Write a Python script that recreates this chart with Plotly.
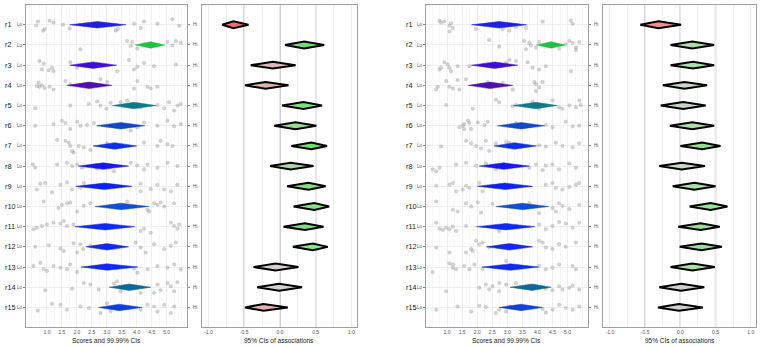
import plotly.graph_objects as go

rows = ["r%d" % i for i in range(1, 16)]

# Panel A: scores (left pair)
a_lo = [1.76, 3.95, 1.76, 1.67, 3.19, 2.66, 2.54, 2.05, 1.96, 2.61, 1.94, 2.30, 2.14, 3.08, 2.72]
a_mid = [2.68, 4.47, 2.54, 2.41, 3.91, 3.46, 3.26, 2.88, 2.92, 3.48, 2.95, 3.01, 3.01, 3.75, 3.42]
a_hi = [3.64, 4.94, 3.33, 3.17, 4.65, 4.27, 4.00, 3.73, 3.84, 4.40, 3.93, 3.73, 4.04, 4.47, 4.18]
score_colors = ["#2020e0", "#20c040", "#4010d0", "#5010b0", "#107888", "#1048c8", "#1030e8",
                "#1818f0", "#1020f0", "#1050d0", "#1028f0", "#1028f0", "#1028f0", "#106898", "#1040d8"]

# Panel B: associations (left pair)
b_lo = [-0.81, 0.07, -0.41, -0.49, 0.03, -0.08, 0.16, -0.14, 0.10, 0.19, 0.05, 0.18, -0.37, -0.32, -0.49]
b_mid = [-0.65, 0.34, -0.10, -0.20, 0.33, 0.22, 0.44, 0.15, 0.40, 0.48, 0.35, 0.46, -0.06, -0.01, -0.23]
b_hi = [-0.44, 0.62, 0.22, 0.12, 0.59, 0.51, 0.66, 0.47, 0.64, 0.69, 0.61, 0.67, 0.26, 0.31, 0.11]
b_colors = ["#f07070", "#70dd70", "#d8b8b8", "#e0b0b0", "#80e080", "#90e090", "#70e070", "#a8d8a8",
            "#80e080", "#80e880", "#80e080", "#80e880", "#d8d0d0", "#d0d0d0", "#e8b0b0"]

# Panel C: scores (right pair)
c_lo = [1.81, 3.97, 1.81, 1.70, 3.20, 2.67, 2.56, 2.07, 2.01, 2.62, 1.98, 2.31, 2.16, 3.09, 2.73]
c_mid = [2.73, 4.46, 2.58, 2.43, 3.95, 3.46, 3.24, 2.89, 2.93, 3.51, 2.96, 3.07, 3.11, 3.82, 3.46]
c_hi = [3.64, 4.92, 3.35, 3.18, 4.66, 4.24, 3.97, 3.73, 3.84, 4.37, 3.91, 3.84, 4.04, 4.46, 4.17]

# Panel D: associations (right pair)
d_lo = [-0.57, -0.14, -0.14, -0.25, -0.28, -0.15, 0.00, -0.30, -0.11, 0.13, -0.03, -0.01, -0.14, -0.30, -0.32]
d_mid = [-0.31, 0.17, 0.18, 0.06, 0.04, 0.17, 0.31, 0.02, 0.20, 0.43, 0.29, 0.30, 0.17, 0.01, -0.02]
d_hi = [0.01, 0.48, 0.48, 0.38, 0.36, 0.48, 0.57, 0.35, 0.50, 0.67, 0.56, 0.59, 0.49, 0.34, 0.32]
d_colors = ["#f09090", "#a8e0a8", "#a8e0a8", "#c8d8c8", "#c8d4c8", "#a8e0a8", "#90e090", "#c8d8c8",
            "#a8e0a8", "#90e890", "#98e098", "#98e098", "#a8e0a8", "#d0d0d0", "#d0d0d0"]

# Jittered individual scores, panel A (x values and vertical offsets per row)
pts_a_x = [
    [0.64, 0.70, 0.87, 0.92, 1.09, 1.22, 1.54, 1.76, 3.30, 3.37, 3.91, 4.13, 4.24, 4.69, 5.19, 5.42],
    [2.12, 3.68, 3.80, 5.03, 5.19, 5.31, 5.47, 4.02, 4.24, 4.69, 3.85],
    [0.75, 0.83, 0.89, 1.06, 1.17, 1.22, 1.78, 2.01, 3.74, 3.91, 4.24, 4.58, 5.31, 3.35, 4.02],
    [0.66, 0.75, 0.83, 0.92, 1.09, 1.22, 1.62, 1.78, 2.79, 3.01, 3.91, 4.02, 4.36, 4.47, 4.69, 0.72],
    [0.61, 1.78, 2.40, 2.68, 2.79, 2.99, 3.13, 3.46, 3.68, 4.13, 4.69, 4.92, 5.08, 5.25, 5.36, 5.47],
    [0.61, 1.22, 1.50, 1.62, 1.78, 2.01, 2.12, 2.34, 2.57, 4.24, 4.69, 5.03, 5.25, 5.47, 3.80, 4.02],
    [1.34, 1.62, 1.73, 1.78, 1.84, 2.06, 2.23, 2.45, 3.01, 4.24, 4.69, 4.80, 5.03, 5.19, 1.89],
    [0.53, 0.61, 1.34, 1.67, 1.84, 2.01, 2.17, 2.68, 3.24, 3.80, 4.02, 4.24, 4.36, 4.69, 5.03, 5.36],
    [0.66, 0.78, 0.94, 1.17, 1.45, 1.67, 1.84, 2.12, 2.23, 4.13, 4.47, 4.69, 4.92, 5.14, 5.36, 4.13],
    [0.89, 1.39, 1.50, 1.67, 1.78, 2.01, 2.23, 2.45, 4.36, 4.58, 4.69, 4.80, 4.92, 5.25, 4.41, 3.68],
    [0.55, 0.66, 0.83, 1.00, 1.22, 1.45, 1.56, 1.67, 1.89, 4.13, 4.24, 4.47, 5.14, 5.25, 5.36, 5.42],
    [0.61, 1.06, 1.45, 1.56, 1.89, 2.12, 2.21, 2.45, 3.96, 4.13, 4.30, 4.58, 4.92, 5.14, 5.31, 2.01],
    [0.55, 0.78, 0.89, 1.00, 1.22, 1.45, 1.67, 1.78, 2.01, 3.91, 4.02, 4.36, 4.69, 5.03, 5.25, 5.47],
    [0.94, 1.84, 2.23, 2.45, 2.73, 3.24, 3.35, 3.46, 4.13, 4.69, 4.80, 5.03, 5.14, 5.25, 5.36, 4.58],
    [0.69, 1.17, 1.45, 1.67, 2.12, 2.40, 2.79, 3.13, 4.13, 4.36, 4.58, 4.69, 4.92, 5.14, 5.25, 3.01],
]
pts_a_dy = [
    [0.03, -0.16, 0.3, 0.21, -0.2, -0.11, 0, 0.18, 0.28, 0.21, -0.05, 0.16, -0.16, -0.05, -0.28, 0.05],
    [0.21, -0.2, 0.05, -0.15, 0.02, -0.2, -0.11, 0.18, -0.03, 0.05, -0.15],
    [-0.2, 0.21, -0.08, 0.25, 0.13, 0.3, -0.15, 0.13, -0.25, 0.21, -0.11, 0.05, -0.03, 0.3, 0.08],
    [0.03, 0.07, 0, 0.13, 0.07, 0.2, -0.21, -0.05, -0.3, -0.16, 0.16, -0.21, 0.07, 0.16, 0.07, -0.13],
    [0.13, 0, -0.08, -0.2, 0, 0.16, -0.13, -0.16, -0.25, 0.08, -0.03, 0.13, -0.16, 0.25, 0, -0.08],
    [0, -0.08, -0.25, -0.13, 0.16, -0.2, 0, -0.03, -0.13, -0.16, 0, -0.25, 0.03, -0.08, 0.25, 0.08],
    [-0.3, -0.25, -0.16, 0, 0.25, 0, 0.08, 0.2, -0.13, -0.16, 0, -0.25, -0.08, 0, 0.33],
    [-0.08, 0.08, -0.08, -0.16, 0, -0.08, 0.08, 0.13, 0.25, -0.16, -0.03, 0.16, -0.08, 0.08, -0.16, 0],
    [0.16, -0.13, -0.16, 0.3, -0.08, -0.2, 0.16, 0.08, -0.16, -0.13, 0.13, -0.08, 0.16, 0.25, -0.08, 0.25],
    [-0.25, 0.08, -0.08, -0.16, -0.2, 0.25, -0.03, -0.16, 0.16, -0.16, -0.08, -0.2, 0, -0.16, 0.25, -0.25],
    [0.13, 0.05, -0.03, -0.11, -0.2, -0.16, -0.28, -0.03, -0.11, 0.21, 0.1, 0.3, -0.2, -0.03, 0.1, -0.11],
    [0, -0.08, 0.08, 0.2, -0.18, -0.13, 0.11, -0.05, -0.21, 0.03, 0.28, -0.13, 0.11, -0.05, -0.21, 0.28],
    [-0.05, -0.21, 0.11, 0.2, -0.05, 0.03, 0.11, -0.13, 0.25, 0.08, 0.28, 0.11, -0.05, 0.03, -0.13, 0.11],
    [0.15, 0.08, -0.21, -0.13, 0.11, -0.18, -0.3, 0.2, 0.28, -0.13, 0.15, -0.21, -0.05, 0.2, -0.25, 0.28],
    [0.15, -0.18, -0.13, 0.11, -0.05, 0.03, 0.28, 0.2, 0.11, -0.13, -0.05, 0.2, -0.13, 0.28, -0.05, -0.21],
]

# Jittered individual scores, panel C
pts_c_x = [
    [0.75, 0.80, 0.91, 1.08, 1.13, 1.19, 1.96, 2.85, 3.07, 3.29, 4.17, 5.11, 5.17, 3.62, 1.08],
    [2.40, 2.73, 3.56, 3.62, 3.78, 3.95, 4.06, 4.72, 4.94, 5.06, 5.17, 5.28, 5.39, 3.73, 5.28],
    [0.75, 0.80, 0.91, 1.02, 1.08, 1.13, 1.35, 1.74, 3.07, 3.29, 3.67, 3.84, 4.06, 4.28, 5.11, 2.96],
    [0.64, 0.69, 0.97, 1.08, 1.19, 1.35, 1.63, 2.35, 2.85, 3.18, 3.90, 3.95, 4.06, 4.17, 3.95, 1.41],
    [0.97, 1.85, 2.62, 2.73, 3.18, 3.29, 3.73, 4.06, 4.50, 4.72, 4.83, 5.06, 5.28, 5.39, 5.44, 3.84],
    [1.41, 1.52, 1.57, 1.69, 1.74, 1.80, 2.02, 2.24, 2.35, 3.29, 4.28, 4.50, 4.94, 5.17, 5.39, 1.57],
    [0.80, 1.63, 1.80, 1.96, 2.13, 2.40, 2.62, 2.96, 4.06, 4.28, 4.61, 4.83, 5.17, 5.39, 3.07, 2.29],
    [0.52, 0.64, 0.75, 1.30, 1.63, 1.96, 2.29, 2.62, 3.73, 3.95, 4.17, 4.28, 4.50, 4.72, 5.06, 5.28],
    [0.64, 1.08, 1.19, 1.30, 1.52, 1.63, 1.74, 2.18, 4.28, 4.50, 4.61, 4.83, 5.06, 5.28, 5.39, 2.07],
    [0.64, 1.19, 1.35, 1.63, 1.80, 2.02, 2.13, 2.51, 4.50, 4.61, 4.72, 4.83, 5.06, 5.39, 4.06, 3.73],
    [0.64, 0.75, 0.86, 0.97, 1.08, 1.19, 1.30, 1.63, 4.06, 4.28, 4.50, 4.72, 4.94, 5.17, 5.39, 2.73],
    [0.64, 1.08, 1.63, 1.80, 1.96, 2.07, 2.18, 2.40, 4.06, 4.17, 4.28, 4.50, 4.72, 4.94, 5.28, 1.85],
    [0.52, 1.08, 1.19, 1.30, 1.57, 1.74, 1.91, 2.18, 2.96, 4.06, 4.28, 4.50, 4.72, 5.17, 5.28, 1.19],
    [0.97, 2.07, 2.29, 2.51, 2.73, 2.96, 3.29, 4.28, 4.50, 4.72, 4.83, 5.06, 5.17, 5.39, 2.73, 2.40],
    [0.64, 1.35, 1.80, 2.07, 2.29, 2.62, 2.73, 3.07, 4.17, 4.28, 4.50, 4.72, 4.94, 5.17, 5.39, 2.96],
]
pts_c_dy = [
    [-0.2, -0.11, -0.16, 0.33, -0.08, 0.16, 0.21, 0.21, 0.28, 0.11, -0.16, -0.21, -0.05, 0.16, 0.05],
    [-0.25, 0.08, -0.2, 0.21, 0.02, 0.13, -0.15, 0.18, -0.03, -0.2, -0.11, 0.13, -0.15, -0.11, 0.25],
    [0.21, 0.13, -0.15, -0.03, 0.13, 0.3, 0.05, 0.05, -0.25, -0.2, -0.15, 0.13, 0.21, 0.05, 0.3, -0.11],
    [0.2, 0.07, -0.21, 0.07, 0.16, -0.26, -0.3, -0.16, -0.13, 0.2, -0.16, -0.05, 0.11, -0.16, 0.28, 0.2],
    [-0.03, 0.16, -0.3, -0.16, 0.03, -0.03, 0, 0.16, -0.25, 0.08, 0.16, 0, 0.08, -0.25, -0.03, -0.2],
    [0.08, 0, -0.08, -0.25, -0.13, 0.16, -0.16, -0.03, -0.2, -0.13, -0.03, 0.08, -0.2, 0.03, 0, 0.16],
    [0.03, -0.25, -0.13, 0, 0.13, 0.25, -0.13, -0.2, -0.03, 0.03, -0.16, 0, 0.08, -0.13, -0.16, -0.25],
    [0.16, 0.25, 0.08, -0.08, -0.16, -0.03, -0.13, 0.16, 0.08, -0.08, 0.2, -0.03, -0.08, 0.16, -0.13, 0.08],
    [-0.03, -0.08, -0.16, 0.25, 0.16, -0.03, 0.08, 0.25, -0.08, -0.16, 0.08, 0.16, 0.03, -0.08, -0.16, -0.16],
    [-0.25, 0.16, 0.25, -0.16, 0, -0.2, 0.3, -0.13, 0.08, 0.25, -0.16, -0.03, 0.13, -0.08, 0.33, -0.16],
    [-0.2, 0.1, 0.16, 0.05, 0.13, 0, 0.21, -0.03, -0.11, 0.13, -0.03, -0.23, -0.16, 0.05, -0.2, 0.21],
    [0.03, 0.28, 0.28, 0.11, -0.3, -0.13, -0.21, 0.03, -0.3, -0.21, 0.03, 0.11, -0.13, 0, -0.21, 0.2],
    [0.25, -0.18, 0.03, 0.11, -0.05, 0.11, -0.13, 0.08, -0.3, -0.05, 0.11, 0.03, -0.13, -0.05, 0.11, -0.13],
    [0.2, 0.03, -0.13, -0.05, -0.21, -0.13, -0.21, 0.08, 0.15, -0.05, 0.11, 0.03, -0.08, 0.11, 0.2, 0.11],
    [0.11, -0.05, 0.2, -0.08, -0.02, 0.28, 0.11, -0.05, 0.08, 0.25, 0.11, -0.13, 0.03, 0.11, -0.05, 0.2],
]

score_ticks = [1.0, 1.5, 2.0, 2.5, 3.0, 3.5, 4.0, 4.5, 5.0]
assoc_ticks = [-1.0, -0.5, 0.0, 0.5, 1.0]
assoc_reflines = [-0.5, 0.0, 0.5]

W, H = 762, 346
FONT = "Liberation Sans, Arial, sans-serif"
y_top, y_bot = 1 - 5 / H, 1 - 327 / H
dom = {
    "A": [26 / W, 187 / W],
    "B": [201.7 / W, 356.7 / W],
    "C": [426 / W, 588 / W],
    "D": [603.3 / W, 756 / W],
}
axis_ids = {"A": ("x", "y"), "B": ("x2", "y2"), "C": ("x3", "y3"), "D": ("x4", "y4")}

fig = go.Figure()


def diamond(xa, ya, lo, mid, hi, yc, half, fill, line_color, line_w):
    fig.add_trace(go.Scatter(
        x=[lo, mid, hi, mid, lo], y=[yc, yc - half, yc, yc + half, yc],
        mode="lines", fill="toself", fillcolor=fill,
        line=dict(color=line_color, width=line_w),
        xaxis=xa, yaxis=ya, hoverinfo="skip", showlegend=False))


for key, px, pdy, lo, mid, hi in (("A", pts_a_x, pts_a_dy, a_lo, a_mid, a_hi),
                                  ("C", pts_c_x, pts_c_dy, c_lo, c_mid, c_hi)):
    xa, ya = axis_ids[key]
    xs, ys = [], []
    for i in range(len(rows)):
        for xv, dv in zip(px[i], pdy[i]):
            xs.append(xv)
            ys.append(i + 1 + dv)
    fig.add_trace(go.Scatter(x=xs, y=ys, mode="markers",
                             marker=dict(size=3.5, color="rgba(150,150,150,0.4)",
                                         line=dict(color="rgba(120,120,120,0.35)", width=0.5)),
                             xaxis=xa, yaxis=ya, hoverinfo="skip", showlegend=False))
    for i in range(len(rows)):
        diamond(xa, ya, lo[i], mid[i], hi[i], i + 1, 0.16, score_colors[i], score_colors[i], 0.5)

for key, lo, mid, hi, cols in (("B", b_lo, b_mid, b_hi, b_colors), ("D", d_lo, d_mid, d_hi, d_colors)):
    xa, ya = axis_ids[key]
    for i in range(len(rows)):
        diamond(xa, ya, lo[i], mid[i], hi[i], i + 1, 0.17, cols[i], "black", 2)

layout = dict(width=W, height=H, margin=dict(l=0, r=0, t=0, b=0),
              paper_bgcolor="white", plot_bgcolor="white", showlegend=False,
              font=dict(family=FONT, color="#333333"))
shapes = []
annotations = []

for key in "ABCD":
    xa, ya = axis_ids[key]
    xname = "xaxis" + xa[1:]
    yname = "yaxis" + ya[1:]
    is_score = key in "AC"
    if is_score:
        xax = dict(domain=dom[key], anchor=ya, range=[0.3, 5.68],
                   tickvals=score_ticks, ticktext=["%.1f" % v for v in score_ticks],
                   tickfont=dict(size=5, color="#555555"), ticks="",
                   showgrid=True, gridcolor="#ececec", gridwidth=0.8,
                   minor=dict(dtick=0.25, tick0=0.25, showgrid=True, gridcolor="#f2f2f2", gridwidth=0.6),
                   showline=True, linecolor="#a0a0a0", linewidth=1, mirror=True, zeroline=False)
        yax = dict(domain=[y_bot, y_top], anchor=xa, range=[15.97, 0.02],
                   tickvals=list(range(1, 16)), ticktext=["Lo"] * 15,
                   tickfont=dict(size=4.5, color="#555555"), ticks="outside", ticklen=2,
                   tickcolor="#888888", showgrid=True, gridcolor="#ececec", gridwidth=0.8,
                   showline=True, linecolor="#a0a0a0", linewidth=1, mirror="ticks", zeroline=False)
    else:
        xax = dict(domain=dom[key], anchor=ya, range=[-1.095, 1.075],
                   tickvals=assoc_ticks, ticktext=["%.1f" % v for v in assoc_ticks],
                   tickfont=dict(size=5, color="#555555"), ticks="",
                   showgrid=True, gridcolor="#ececec", gridwidth=0.8,
                   minor=dict(dtick=0.25, tick0=0.25, showgrid=True, gridcolor="#ececec", gridwidth=0.8),
                   showline=True, linecolor="#a0a0a0", linewidth=1, mirror=True, zeroline=False)
        yax = dict(domain=[y_bot, y_top], anchor=xa, range=[15.97, 0.02],
                   showticklabels=False, ticks="", showgrid=False,
                   showline=True, linecolor="#a0a0a0", linewidth=1, mirror=True, zeroline=False)
        for v in assoc_reflines:
            shapes.append(dict(type="line", xref=xa, yref="paper", x0=v, x1=v, y0=y_bot, y1=y_top,
                               line=dict(color="#b4b4b4", width=1.4), layer="below"))
    layout[xname] = xax
    layout[yname] = yax

# row labels and Hi labels
for key, lx, hx in (("A", 3 / W, 191 / W), ("C", 404 / W, 592 / W)):
    ya = axis_ids[key][1]
    for i, r in enumerate(rows):
        annotations.append(dict(x=lx, xref="paper", y=i + 1, yref=ya, text=r, showarrow=False,
                                xanchor="left", yanchor="middle", font=dict(size=7.3, color="#222222")))
        annotations.append(dict(x=hx, xref="paper", y=i + 1, yref=ya, text="Hi", showarrow=False,
                                xanchor="left", yanchor="middle", font=dict(size=4.5, color="#555555")))

titles = {"A": "Scores and 99.99% CIs", "B": "95% CIs of associations",
          "C": "Scores and 99.99% CIs", "D": "95% CIs of associations"}
for key in "ABCD":
    d0, d1 = dom[key]
    annotations.append(dict(x=(d0 + d1) / 2, xref="paper", y=1 - 340.5 / H, yref="paper",
                            text=titles[key], showarrow=False, xanchor="center", yanchor="middle",
                            font=dict(size=6.5, color="#222222")))

layout["shapes"] = shapes
layout["annotations"] = annotations
fig.update_layout(**layout)
fig.write_html("out.html", config={"displayModeBar": False, "staticPlot": True},
               post_script="document.body.style.margin='0';document.body.style.overflow='hidden';")
